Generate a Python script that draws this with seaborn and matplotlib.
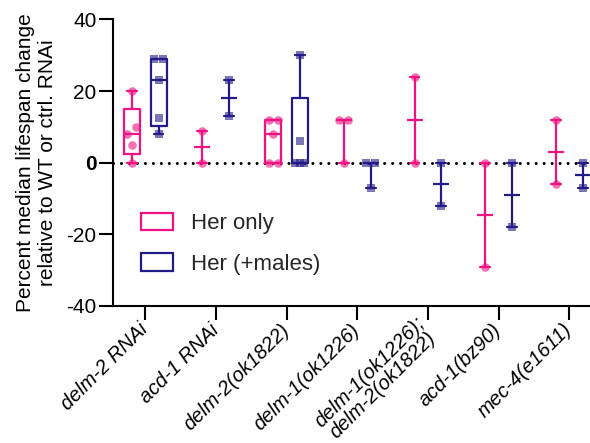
import numpy as np
import pandas as pd
import matplotlib
matplotlib.use("Agg")
import matplotlib.pyplot as plt
from matplotlib.patches import Patch
import seaborn as sns

# ---------------- data ----------------
categories = ["delm-2 RNAi", "acd-1 RNAi", "delm-2(ok1822)", "delm-1(ok1226)",
              "delm-1(ok1226);\ndelm-2(ok1822)", "acd-1(bz90)", "mec-4(e1611)"]
groups = ["Her only", "Her (+males)"]

her_only = [
    [0, 5, 8, 10, 20],
    [0, 9],
    [0, 0, 8, 12, 12],
    [0, 12, 12],
    [0, 24],
    [-29, 0],
    [-6, 12],
]
her_males = [
    [8, 12.5, 23, 29, 29],
    [13, 23],
    [0, 0, 0, 6, 30],
    [-7, 0, 0],
    [-12, 0],
    [-18, 0],
    [-7, 0],
]
yticks = [-40, -20, 0, 20, 40]

# ---------------- style ----------------
sns.set_theme(style="ticks")
plt.rcParams["font.family"] = ["Liberation Sans", "DejaVu Sans"]

pink = "#EE1282"
blue = "#231B87"
colors = {"Her only": pink, "Her (+males)": blue}
markers = {"Her only": "o", "Her (+males)": "s"}
offsets = {"Her only": -0.19, "Her (+males)": 0.19}
series = {"Her only": her_only, "Her (+males)": her_males}

SPREAD = 0.064      # half-width of a cluster of overlapping points (x units)
Y_CLOSE = 2.4       # values closer than this overlap visually (y units)


def scatter_offsets(vals):
    """GraphPad-like horizontal spreading of overlapping points."""
    order = np.argsort(vals, kind="stable")
    v = np.asarray(vals, dtype=float)[order]
    out = np.zeros(len(v))
    clusters, cur = [], [0]
    for k in range(1, len(v)):
        if v[k] - v[cur[-1]] < Y_CLOSE:
            cur.append(k)
        else:
            clusters.append(cur)
            cur = [k]
    clusters.append(cur)
    for c in clusters:
        if len(c) > 1:
            out[c] = np.linspace(-SPREAD, SPREAD, len(c))
    res = np.zeros(len(v))
    res[order] = out
    return res


rows = []
for g in groups:
    for i, vals in enumerate(series[g]):
        offs = scatter_offsets(vals)
        for v, o in zip(vals, offs):
            rows.append({"category": categories[i], "cat_idx": i, "group": g,
                         "pos": i + offsets[g], "xpt": i + offsets[g] + o,
                         "value": v, "n": len(vals)})
df = pd.DataFrame(rows)

fig = plt.figure(figsize=(5.9, 4.43), dpi=100)
ax = fig.add_axes([0.192, 0.3093, 0.827, 0.6467])

lw = 1.6
box_w = 0.226
cap_w = 0.14

# zero reference line
ax.axhline(0, color="black", lw=2.2, linestyle=(0, (0.01, 2.6)),
           dash_capstyle="round", zorder=1)

for g in groups:
    col = colors[g]
    sub = df[df["group"] == g]
    # boxes for groups with enough points (GraphPad-style quartiles)
    big = sub[sub["n"] >= 4]
    stats, positions = [], []
    for (idx, pos), grp in big.groupby(["cat_idx", "pos"]):
        v = np.sort(grp["value"].to_numpy())
        q1, med, q3 = np.percentile(v, [25, 50, 75], method="weibull")
        stats.append({"whislo": v.min(), "q1": q1, "med": med, "q3": q3,
                      "whishi": v.max(), "fliers": []})
        positions.append(pos)
    if stats:
        ax.bxp(stats, positions=positions, widths=box_w, capwidths=cap_w,
               showfliers=False, manage_ticks=False,
               boxprops=dict(color=col, lw=lw),
               whiskerprops=dict(color=col, lw=lw),
               capprops=dict(color=col, lw=lw),
               medianprops=dict(color=col, lw=lw), zorder=3)
    # median with range for small groups
    small = sub[sub["n"] < 4]
    sns.pointplot(data=small, x="pos", y="value", native_scale=True,
                  estimator="median", errorbar=("pi", 100), capsize=cap_w,
                  color=col, marker="_", markersize=12, markeredgewidth=lw,
                  linestyle="none", err_kws={"linewidth": lw}, ax=ax, zorder=3)
    # individual points
    sns.scatterplot(data=sub, x="xpt", y="value", color=col,
                    marker=markers[g], s=38 if g == "Her only" else 34,
                    alpha=0.6, linewidth=0, ax=ax, zorder=4, legend=False)

ax.set_xlim(-0.45, 6.45)
ax.set_ylim(-40, 40)
ax.set_yticks(yticks)
ax.set_yticklabels([str(t) for t in yticks], fontsize=15)
for lab in ax.get_yticklabels():
    if lab.get_text() == "0":
        lab.set_fontweight("bold")
ax.set_xticks(range(len(categories)))
ax.set_xticklabels(categories, rotation=45, ha="right", va="center",
                   rotation_mode="anchor", fontsize=14.5, style="italic",
                   multialignment="center", linespacing=0.95)
ax.set_xlabel("")
ax.set_ylabel("Percent median lifespan change\nrelative to WT or ctrl. RNAi",
              fontsize=15, labelpad=7, color="black")

for s in ["top", "right"]:
    ax.spines[s].set_visible(False)
for s in ["left", "bottom"]:
    ax.spines[s].set_linewidth(1.5)
    ax.spines[s].set_color("black")
ax.tick_params(axis="both", direction="out", length=10, width=1.5,
               colors="black", pad=2)
ax.tick_params(axis="x", pad=5)

handles = [Patch(facecolor="white", edgecolor=colors[g], lw=lw, label=g)
           for g in groups]
ax.legend(handles=handles, loc="upper left",
          bbox_to_anchor=(141 / 590, 1 - 213 / 443),
          bbox_transform=fig.transFigure, frameon=False,
          fontsize=16, handlelength=1.45, handleheight=0.82,
          handletextpad=0.8, labelspacing=0.85, borderpad=0,
          borderaxespad=0)

fig.savefig("out.png", dpi=100, facecolor="white")
